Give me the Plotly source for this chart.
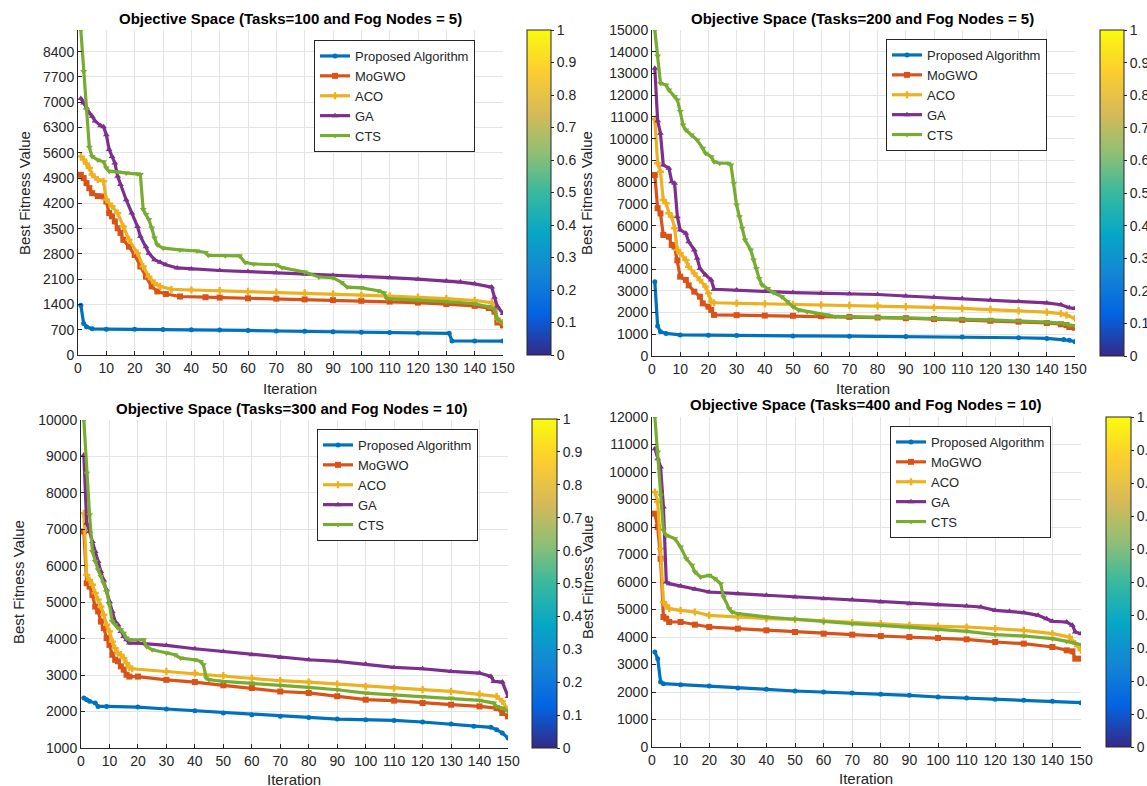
import plotly.graph_objects as go

# ---------------- data (iteration, best fitness) ----------------
SERIES = ["Proposed Algorithm", "MoGWO", "ACO", "GA", "CTS"]
PANEL_TITLES = [
    "Objective Space (Tasks=100 and Fog Nodes = 5)",
    "Objective Space (Tasks=200 and Fog Nodes = 5)",
    "Objective Space (Tasks=300 and Fog Nodes = 10)",
    "Objective Space (Tasks=400 and Fog Nodes = 10)",
]
X_TICKS = list(range(0, 151, 10))
Y_TICKS_1 = list(range(0, 8401, 700))
Y_TICKS_2 = list(range(0, 15001, 1000))
Y_TICKS_3 = list(range(1000, 10001, 1000))
Y_TICKS_4 = list(range(0, 12001, 1000))
CBAR_TICKS = [0, 0.1, 0.2, 0.3, 0.4, 0.5, 0.6, 0.7, 0.8, 0.9, 1]
CBAR_LABELS = ["0", "0.1", "0.2", "0.3", "0.4", "0.5", "0.6", "0.7", "0.8", "0.9", "1"]

# Panel 1: Tasks=100, Fog Nodes=5
t100_proposed = [(1, 1380), (2, 870), (3, 780), (5, 725), (10, 715), (20, 712), (30, 705), (40, 700),
                 (50, 690), (60, 680), (70, 665), (80, 655), (90, 645), (100, 630), (110, 620),
                 (120, 610), (131, 600), (132, 390), (140, 388), (150, 385)]
t100_mogwo = [(1, 4990), (2, 4900), (3, 4760), (4, 4620), (5, 4480), (7, 4400), (9, 4390), (10, 4250),
              (11, 3930), (12, 3840), (13, 3700), (14, 3510), (15, 3380), (16, 3190), (18, 3000),
              (20, 2770), (22, 2450), (24, 2170), (26, 1900), (28, 1760), (31, 1690), (36, 1620),
              (45, 1600), (50, 1590), (60, 1570), (70, 1560), (80, 1540), (90, 1520), (100, 1500),
              (110, 1480), (120, 1450), (130, 1410), (140, 1360), (145, 1300), (147, 1200),
              (148, 900), (150, 820)]
t100_aco = [(1, 5500), (2, 5410), (3, 5300), (4, 5180), (5, 5000), (7, 4860), (9, 4810), (10, 4300),
            (12, 4120), (14, 3930), (16, 3560), (18, 3190), (21, 2820), (23, 2450), (25, 2170),
            (27, 1990), (29, 1900), (33, 1820), (40, 1800), (50, 1780), (60, 1760), (70, 1740),
            (80, 1720), (90, 1690), (100, 1660), (110, 1630), (120, 1600), (130, 1560), (140, 1510),
            (146, 1450), (147, 1300), (148, 1000), (150, 900)]
t100_ga = [(1, 7100), (2, 6980), (3, 6850), (4, 6700), (5, 6610), (6, 6480), (8, 6350), (9, 6320),
           (10, 6100), (11, 5690), (12, 5500), (13, 5320), (14, 4950), (15, 4720), (17, 4300),
           (19, 3930), (21, 3560), (22, 3290), (24, 3000), (25, 2820), (27, 2640), (29, 2570),
           (31, 2500), (35, 2410), (40, 2380), (50, 2340), (60, 2310), (70, 2280), (80, 2240),
           (90, 2200), (100, 2170), (110, 2140), (120, 2100), (130, 2050), (135, 2020), (140, 1970),
           (146, 1880), (147, 1600), (148, 1350), (150, 1150)]
t100_cts = [(1, 9000), (2, 7850), (3, 6800), (4, 5750), (5, 5500), (7, 5400), (9, 5350), (10, 5180),
            (11, 5090), (14, 5070), (17, 5040), (21, 5020), (22, 5000), (23, 4030), (24, 3890),
            (25, 3750), (26, 3520), (27, 3240), (28, 3050), (30, 2960), (36, 2910), (42, 2880),
            (45, 2840), (46, 2760), (52, 2750), (57, 2745), (59, 2560), (62, 2520), (70, 2500),
            (72, 2420), (80, 2300), (85, 2160), (90, 2140), (93, 2010), (95, 1880), (100, 1860),
            (106, 1780), (108, 1720), (109, 1560), (120, 1520), (130, 1480), (140, 1420),
            (145, 1330), (147, 1270), (148, 1000), (150, 880)]

# Panel 2: Tasks=200, Fog Nodes=5
t200_proposed = [(1, 3420), (2, 1380), (3, 1120), (5, 1040), (10, 970), (20, 950), (30, 940),
                 (50, 925), (70, 910), (90, 895), (110, 870), (130, 840), (140, 810), (146, 760),
                 (148, 720), (150, 660)]
t200_mogwo = [(1, 8330), (2, 6800), (3, 6560), (4, 5570), (6, 5490), (7, 5110), (8, 5030), (9, 4400),
              (10, 3650), (12, 3500), (13, 3250), (15, 2960), (17, 2730), (18, 2420), (20, 2270),
              (21, 2120), (22, 1890), (30, 1880), (40, 1860), (50, 1850), (60, 1830), (70, 1800),
              (80, 1770), (90, 1740), (100, 1700), (110, 1660), (120, 1620), (130, 1580),
              (140, 1520), (145, 1460), (147, 1420), (148, 1330), (150, 1300)]
t200_aco = [(1, 10890), (2, 8870), (3, 8480), (4, 7180), (5, 7030), (6, 6570), (7, 6410), (8, 5880),
            (9, 4880), (10, 4730), (12, 4420), (13, 4110), (15, 3800), (17, 3500), (19, 3190),
            (20, 2880), (21, 2500), (22, 2450), (30, 2430), (40, 2400), (50, 2380), (60, 2350),
            (70, 2330), (80, 2310), (90, 2270), (100, 2240), (110, 2190), (120, 2130), (130, 2080),
            (140, 2020), (145, 1950), (147, 1880), (150, 1730)]
t200_ga = [(1, 13240), (2, 10820), (3, 10250), (4, 8790), (6, 8640), (7, 8020), (8, 7950), (9, 6410),
           (10, 5800), (12, 5650), (13, 5260), (15, 4880), (16, 4500), (17, 4030), (19, 3730),
           (21, 3500), (22, 3070), (30, 3040), (40, 2970), (50, 2920), (60, 2890), (70, 2860),
           (80, 2830), (90, 2760), (100, 2700), (110, 2640), (120, 2580), (130, 2510), (140, 2440),
           (145, 2360), (148, 2220), (150, 2190)]
t200_cts = [(1, 15000), (2, 13800), (3, 12550), (5, 12470), (6, 12240), (8, 11940), (9, 11780),
            (10, 11250), (11, 10630), (12, 10400), (14, 10170), (16, 9940), (18, 9560), (19, 9330),
            (21, 9170), (22, 8940), (24, 8870), (27, 8870), (28, 8790), (29, 7950), (30, 6950),
            (31, 6410), (32, 5880), (33, 5340), (35, 4880), (36, 4420), (37, 4030), (38, 3570),
            (39, 3270), (41, 3110), (43, 2920), (46, 2730), (48, 2500), (50, 2270), (52, 2120),
            (55, 2040), (58, 1960), (62, 1890), (65, 1820), (80, 1780), (100, 1730), (120, 1660),
            (140, 1560), (146, 1500), (148, 1420), (150, 1390)]

# Panel 3: Tasks=300, Fog Nodes=10
t300_proposed = [(1, 2370), (2, 2325), (3, 2280), (5, 2233), (6, 2142), (9, 2142), (20, 2124),
                 (30, 2070), (40, 2023), (50, 1960), (60, 1914), (70, 1868), (80, 1840), (90, 1795),
                 (100, 1777), (110, 1758), (120, 1713), (130, 1658), (138, 1594), (144, 1566),
                 (146, 1502), (148, 1411), (150, 1274)]
t300_mogwo = [(1, 6940), (2, 5520), (3, 5430), (4, 5200), (5, 4880), (6, 4750), (7, 4470), (8, 4290),
              (9, 4015), (10, 3830), (11, 3560), (12, 3420), (13, 3380), (14, 3240), (15, 3150),
              (16, 3010), (17, 2960), (20, 2960), (30, 2870), (40, 2810), (50, 2720), (60, 2645),
              (70, 2550), (80, 2510), (90, 2420), (100, 2325), (110, 2300), (120, 2233), (130, 2188),
              (140, 2142), (146, 2096), (148, 1960), (150, 1868)]
t300_aco = [(1, 7440), (2, 5750), (3, 5610), (4, 5480), (5, 5250), (6, 5070), (7, 4880), (8, 4655),
            (9, 4380), (10, 4200), (11, 3920), (12, 3740), (13, 3600), (14, 3560), (15, 3470),
            (16, 3330), (17, 3210), (18, 3175), (30, 3100), (40, 3056), (50, 2990), (60, 2920),
            (70, 2846), (80, 2810), (90, 2754), (100, 2690), (110, 2645), (120, 2600), (130, 2553),
            (140, 2480), (146, 2416), (148, 2280), (150, 2050)]
t300_ga = [(1, 9040), (2, 7170), (3, 6940), (4, 6665), (5, 6390), (6, 6120), (7, 5840), (8, 5610),
           (9, 5340), (10, 5020), (11, 4746), (12, 4470), (13, 4380), (14, 4200), (15, 4060),
           (16, 3970), (17, 3880), (20, 3880), (30, 3814), (40, 3723), (50, 3650), (60, 3558),
           (70, 3485), (80, 3421), (90, 3376), (100, 3302), (110, 3211), (120, 3175), (130, 3102),
           (140, 3056), (144, 2964), (145, 2827), (148, 2809), (150, 2416)]
t300_cts = [(1, 10000), (2, 8540), (3, 7400), (4, 6390), (5, 6120), (6, 5890), (7, 5706), (8, 5520),
            (9, 5294), (10, 4930), (11, 4470), (12, 4380), (13, 4290), (14, 4244), (15, 4150),
            (16, 4015), (17, 3970), (22, 3970), (23, 3787), (25, 3695), (30, 3604), (33, 3558),
            (35, 3467), (40, 3421), (42, 3376), (43, 3284), (44, 2919), (45, 2873), (50, 2827),
            (60, 2782), (70, 2718), (80, 2663), (90, 2599), (100, 2508), (110, 2462), (120, 2416),
            (130, 2371), (140, 2307), (145, 2233), (146, 2142), (148, 2096), (150, 2005)]

# Panel 4: Tasks=400, Fog Nodes=10
t400_proposed = [(1, 3454), (2, 3212), (3, 2364), (4, 2303), (10, 2267), (20, 2218), (30, 2145),
                 (40, 2097), (50, 2036), (60, 2000), (70, 1964), (80, 1915), (90, 1879), (100, 1818),
                 (110, 1782), (120, 1733), (130, 1697), (140, 1661), (150, 1612)]
t400_mogwo = [(1, 8485), (2, 8000), (3, 6848), (4, 4727), (5, 4667), (6, 4545), (10, 4545),
              (15, 4448), (20, 4364), (30, 4303), (40, 4242), (50, 4182), (60, 4121), (70, 4085),
              (80, 4036), (90, 4000), (100, 3964), (110, 3915), (120, 3818), (130, 3758), (140, 3636),
              (145, 3515), (147, 3479), (148, 3212), (150, 3212)]
t400_aco = [(1, 9273), (2, 8909), (3, 7212), (4, 5273), (5, 5151), (6, 5030), (10, 4970), (15, 4909),
            (20, 4788), (30, 4727), (40, 4667), (50, 4642), (60, 4582), (70, 4521), (80, 4485),
            (90, 4424), (100, 4388), (110, 4364), (120, 4303), (130, 4242), (140, 4121), (146, 4000),
            (148, 3758), (150, 3515)]
t400_ga = [(1, 10848), (2, 10485), (3, 10182), (4, 8727), (5, 6000), (6, 5939), (10, 5855),
           (15, 5733), (20, 5636), (30, 5576), (40, 5515), (50, 5455), (60, 5394), (70, 5358),
           (80, 5273), (90, 5212), (100, 5176), (110, 5127), (115, 5091), (120, 4970), (125, 4933),
           (130, 4885), (135, 4788), (138, 4667), (140, 4570), (145, 4545), (147, 4424), (148, 4182),
           (150, 4121)]
t400_cts = [(1, 12000), (2, 10727), (3, 9152), (4, 7879), (5, 7697), (8, 7576), (10, 7273),
            (12, 6848), (14, 6606), (15, 6364), (17, 6182), (20, 6242), (22, 6121), (24, 5939),
            (25, 5455), (27, 5030), (28, 4909), (30, 4848), (40, 4727), (50, 4642), (60, 4545),
            (70, 4485), (80, 4424), (90, 4364), (100, 4279), (110, 4206), (120, 4085), (130, 4036),
            (140, 3939), (145, 3842), (150, 3721)]

PANEL_DATA = [
    [t100_proposed, t100_mogwo, t100_aco, t100_ga, t100_cts],
    [t200_proposed, t200_mogwo, t200_aco, t200_ga, t200_cts],
    [t300_proposed, t300_mogwo, t300_aco, t300_ga, t300_cts],
    [t400_proposed, t400_mogwo, t400_aco, t400_ga, t400_cts],
]
Y_RANGES = [(0, 9000), (0, 15000), (1000, 10000), (0, 12000)]
Y_TICKS = [Y_TICKS_1, Y_TICKS_2, Y_TICKS_3, Y_TICKS_4]

# ---------------- styling ----------------
W, H = 1147, 786
COLORS = ["#0072BD", "#D95319", "#EDB120", "#7E2F8E", "#77AC30"]
SYMBOLS = ["circle", "square", "cross", "triangle-up", "triangle-down"]
MSIZES = [5, 6, 6, 6, 6]
FONT = "Liberation Sans, Arial, Helvetica, sans-serif"
DARK = "#262626"
GRID = "#e4e4e4"
PARULA = [[0.0, "#352a87"], [0.125, "#0363e1"], [0.25, "#1485d4"], [0.375, "#06a7c6"],
          [0.5, "#38b99e"], [0.625, "#92bf73"], [0.75, "#d9ba56"], [0.875, "#fcce2e"],
          [1.0, "#f9fb0e"]]

def fx(px):
    return px / W

def fy(py):
    return 1 - py / H

# pixel boxes of each panel: (left, right, top, bottom)
PLOT_BOX = [(78, 503, 30, 355), (652, 1075, 30, 356), (81, 508, 420, 748), (652, 1081, 417, 747)]
CBAR_BOX = [(527, 24, 30, 355), (1100, 24, 30, 356), (532, 25, 419, 748), (1106, 25, 417, 747)]
LEGEND_POS = [(314, 40), (886, 39), (317, 429), (890, 426)]
TITLE_POS = [(290, 18), (862, 18), (292, 408), (866, 404)]
XLAB_POS = [(290, 388), (863, 388), (294, 779), (866, 778)]
YLAB_POS = [(25, 193), (587, 193), (18, 582), (587, 577)]

fig = go.Figure()
layout = dict(
    width=W, height=H, autosize=False,
    margin=dict(l=0, r=0, t=0, b=0, autoexpand=False),
    paper_bgcolor="white", plot_bgcolor="white",
    font=dict(family=FONT, color=DARK, size=14),
    hovermode=False,
    annotations=[],
)

for p in range(4):
    sfx = "" if p == 0 else str(p + 1)
    xa, ya = "x" + sfx, "y" + sfx
    leg = "legend" + sfx
    l, r, t, b = PLOT_BOX[p]
    for s in range(5):
        pts = PANEL_DATA[p][s]
        fig.add_trace(go.Scatter(
            x=[q[0] for q in pts], y=[q[1] for q in pts],
            mode="lines+markers", name=SERIES[s],
            line=dict(color=COLORS[s], width=3.2),
            marker=dict(color=COLORS[s], symbol=SYMBOLS[s], size=MSIZES[s]),
            xaxis=xa, yaxis=ya, legend=leg,
        ))
    # invisible trace carrying the colour bar
    cx, cth, ct, cb = CBAR_BOX[p]
    fig.add_trace(go.Scatter(
        x=[-100], y=[-100000], mode="markers", showlegend=False, hoverinfo="skip",
        xaxis=xa, yaxis=ya,
        marker=dict(color=[0.5], colorscale=PARULA, cmin=0, cmax=1, showscale=True, size=1,
                    colorbar=dict(x=fx(cx), xanchor="left", xpad=0, ypad=0,
                                  y=fy((ct + cb) / 2), yanchor="middle",
                                  len=(cb - ct) / H, lenmode="fraction",
                                  thickness=cth, thicknessmode="pixels",
                                  outlinecolor=DARK, outlinewidth=1,
                                  tickvals=CBAR_TICKS, ticktext=CBAR_LABELS,
                                  ticks="outside", ticklen=3, tickcolor=DARK,
                                  tickfont=dict(size=14, color=DARK, family=FONT))),
    ))
    axis_common = dict(showgrid=True, gridcolor=GRID, gridwidth=1, zeroline=False,
                       showline=True, linecolor=DARK, linewidth=1, mirror=False,
                       ticks="inside", ticklen=4, tickcolor=DARK, tickformat="d",
                       tickfont=dict(size=14, color=DARK, family=FONT))
    layout["xaxis" + sfx] = dict(axis_common, domain=[fx(l), fx(r)], range=[0, 150],
                                 tickvals=X_TICKS, anchor=ya)
    layout["yaxis" + sfx] = dict(axis_common, domain=[fy(b), fy(t)], range=list(Y_RANGES[p]),
                                 tickvals=Y_TICKS[p], anchor=xa)
    lx, ly = LEGEND_POS[p]
    layout[leg] = dict(x=fx(lx), y=fy(ly), xanchor="left", yanchor="top",
                       bgcolor="white", bordercolor=DARK, borderwidth=1,
                       font=dict(size=13, color=DARK, family=FONT), tracegroupgap=0,
                       itemwidth=30)
    tx, ty = TITLE_POS[p]
    layout["annotations"].append(dict(text="<b>" + PANEL_TITLES[p] + "</b>", x=fx(tx), y=fy(ty),
                                      xref="paper", yref="paper", showarrow=False,
                                      xanchor="center", yanchor="middle",
                                      font=dict(size=15, color="#000000", family=FONT)))
    ix, iy = XLAB_POS[p]
    layout["annotations"].append(dict(text="Iteration", x=fx(ix), y=fy(iy), xref="paper",
                                      yref="paper", showarrow=False, xanchor="center",
                                      yanchor="middle", font=dict(size=15, color=DARK, family=FONT)))
    bx, by = YLAB_POS[p]
    layout["annotations"].append(dict(text="Best Fitness Value", x=fx(bx), y=fy(by), xref="paper",
                                      yref="paper", showarrow=False, textangle=-90,
                                      xanchor="center", yanchor="middle",
                                      font=dict(size=15, color=DARK, family=FONT)))

fig.update_layout(**layout)
fig.write_html(
    "out.html",
    config={"displayModeBar": False, "staticPlot": True},
    post_script="document.body.style.margin='0';document.body.style.overflow='hidden';",
)
